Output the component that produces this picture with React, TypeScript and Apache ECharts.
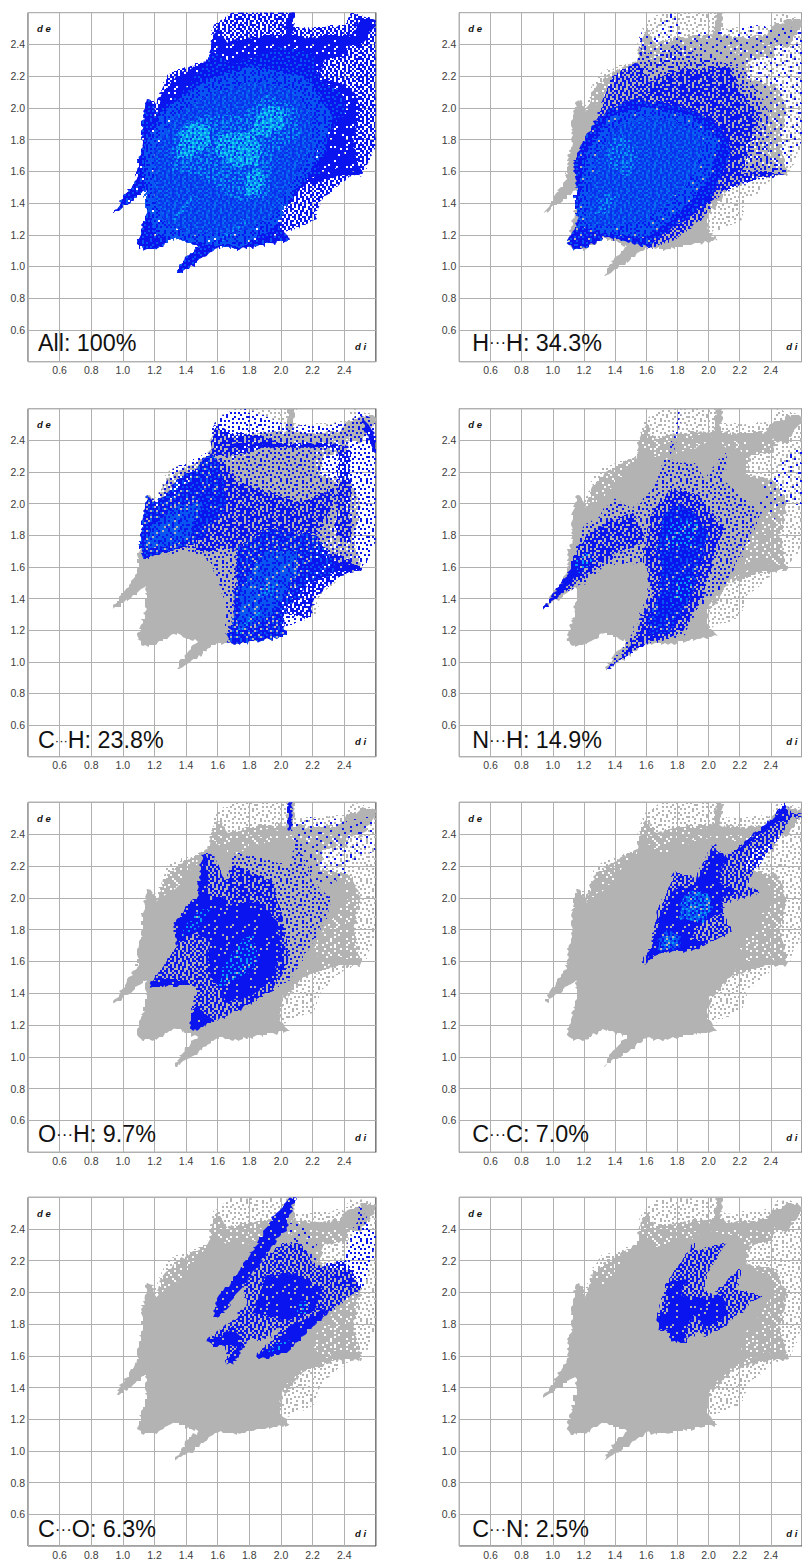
import React, { useEffect, useRef } from "react";
import * as echarts from "echarts";

type Pt = number[];

// ---------- axis ticks ----------
const tickMin = 0.4;
const tickMax = 2.6;
const tickStep = 0.2;

// ---------- panel labels ----------
const atomA = ["All: 100%", "H", "C", "N", "O", "C", "C", "C"];
const dots = ["", "···", "···", "···", "···", "···", "···", "···"];
const atomB = ["", "H: 34.3%", "H: 23.8%", "H: 14.9%", "H: 9.7%", "C: 7.0%", "O: 6.3%", "N: 2.5%"];

// ---------- whole-crystal fingerprint (di, de) ----------
const allEnvelope: Pt[] = [[0.94,1.335],[1.02,1.46],[1.087,1.56],[1.10,1.69],[1.125,1.755],[1.12,1.88],[1.137,1.965],[1.15,2.05],[1.175,2.05],[1.213,2.02],[1.266,2.176],[1.308,2.22],[1.424,2.26],[1.54,2.30],[1.555,2.41],[1.572,2.50],[1.624,2.555],[1.698,2.6],[2.098,2.6],[2.067,2.51],[2.12,2.495],[2.414,2.52],[2.435,2.59],[2.5,2.585],[2.6,2.55],[2.6,1.755],[2.51,1.577],[2.457,1.57],[2.39,1.535],[2.33,1.48],[2.246,1.41],[2.214,1.293],[2.18,1.27],[2.014,1.21],[2.056,1.163],[1.95,1.146],[1.74,1.108],[1.593,1.115],[1.53,1.066],[1.42,0.99],[1.33,0.94],[1.39,1.04],[1.477,1.125],[1.32,1.178],[1.213,1.108],[1.13,1.10],[1.09,1.142],[1.14,1.314],[1.15,1.48],[1.05,1.40]];
const allMedium: Pt[] = [[1.213,1.97],[1.25,2.1],[1.33,2.19],[1.424,2.24],[1.54,2.30],[1.56,2.42],[1.60,2.50],[1.66,2.41],[1.8,2.44],[2.0,2.46],[2.2,2.44],[2.44,2.46],[2.42,2.32],[2.27,2.3],[2.24,2.18],[2.44,2.14],[2.5,2.0],[2.46,1.78],[2.5,1.6],[2.3,1.55],[2.14,1.5],[2.03,1.36],[1.8,1.8]];
const allCore: Pt[] = [[0.94,1.335],[1.02,1.46],[1.09,1.56],[1.10,1.69],[1.125,1.755],[1.12,1.88],[1.137,1.965],[1.15,2.05],[1.175,2.05],[1.213,1.97],[1.30,2.03],[1.38,2.1],[1.46,2.2],[1.54,2.29],[1.56,2.36],[1.70,2.27],[1.85,2.33],[2.0,2.38],[2.2,2.34],[2.24,2.18],[2.38,2.1],[2.42,1.98],[2.28,1.82],[2.2,1.68],[2.25,1.58],[2.14,1.52],[2.01,1.385],[1.99,1.24],[2.056,1.163],[1.95,1.146],[1.74,1.108],[1.593,1.115],[1.53,1.066],[1.42,0.99],[1.33,0.94],[1.39,1.04],[1.477,1.125],[1.32,1.178],[1.213,1.108],[1.13,1.10],[1.09,1.142],[1.14,1.314],[1.15,1.48],[1.05,1.40]];
const allBandTop: Pt[] = [[2.02,2.40],[2.05,2.6],[2.09,2.6],[2.07,2.40]];
const allBandRim: Pt[] = [[1.85,2.38],[2.4,2.40],[2.58,2.5],[2.6,2.55],[2.42,2.52],[2.36,2.44],[1.9,2.43]];
const allBandSpur: Pt[] = [[2.3,1.57],[2.5,1.575],[2.51,1.6],[2.32,1.63]];
const allBandCorner: Pt[] = [[2.42,2.40],[2.5,2.38],[2.6,2.52],[2.6,2.55],[2.5,2.56]];

const allNoiseWide: Pt[] = [[1.14,1.4],[1.2,1.2],[1.45,1.14],[1.75,1.12],[1.98,1.26],[2.1,1.5],[2.28,1.72],[2.32,1.95],[2.15,2.2],[1.8,2.26],[1.5,2.16],[1.26,1.98],[1.14,1.75]];
const allNoiseZone: Pt[] = [[1.2,1.42],[1.28,1.26],[1.45,1.2],[1.72,1.2],[1.95,1.32],[2.08,1.55],[2.2,1.75],[2.2,1.95],[2.05,2.12],[1.8,2.16],[1.55,2.08],[1.32,1.94],[1.2,1.72]];
const allGlow: Pt[] = [[1.3,1.6],[1.5,1.56],[1.7,1.42],[1.92,1.42],[1.95,1.7],[2.12,1.82],[2.1,2.0],[1.9,2.08],[1.75,1.95],[1.5,1.95],[1.32,1.85]];
const allHotLeft: Pt[] = [[1.34,1.68],[1.44,1.68],[1.55,1.76],[1.55,1.88],[1.44,1.91],[1.36,1.84]];
const allHotMiddle: Pt[] = [[1.58,1.72],[1.70,1.62],[1.86,1.64],[1.88,1.76],[1.82,1.84],[1.70,1.84],[1.60,1.82]];
const allHotRight: Pt[] = [[1.80,1.82],[1.92,1.82],[2.02,1.88],[2.03,1.98],[1.92,2.01],[1.84,1.95]];
const allHotLower: Pt[] = [[1.77,1.45],[1.86,1.44],[1.9,1.55],[1.86,1.62],[1.78,1.58]];
const allStreakLeft: Pt[] = [[1.3,1.28],[1.34,1.28],[1.46,1.44],[1.42,1.44]];
const allStreakLow: Pt[] = [[1.58,1.14],[1.62,1.14],[1.82,1.3],[1.78,1.3]];

// ---------- H...H ----------
const hhSparse: Pt[] = [[1.72,1.2],[1.99,1.377],[2.1,1.5],[2.3,1.54],[2.49,1.577],[2.6,1.8],[2.6,2.5],[2.3,2.52],[2.0,2.48],[1.82,2.42],[1.79,2.6],[1.72,2.58],[1.62,2.47],[1.57,2.49],[1.55,2.28],[1.487,2.26],[1.6,1.8]];
const hhLoose: Pt[] = [[1.57,2.49],[1.62,2.3],[1.8,2.4],[2.0,2.3],[2.2,2.25],[2.38,2.0],[2.38,1.7],[2.49,1.58],[2.2,1.52],[2.0,1.4],[1.8,1.6],[1.55,2.28]];
const hhMedium: Pt[] = [[1.19,1.78],[1.277,1.92],[1.38,2.197],[1.487,2.26],[1.55,2.28],[1.62,2.16],[1.82,2.24],[2.14,2.25],[2.2,2.1],[2.325,1.966],[2.25,1.7],[2.2,1.55],[2.074,1.482],[1.96,1.30],[1.8,1.18],[1.61,1.108],[1.6,1.3],[1.2,1.3]];
const hhDense: Pt[] = [[1.09,1.146],[1.13,1.1],[1.214,1.115],[1.34,1.184],[1.508,1.146],[1.61,1.12],[1.70,1.2],[1.864,1.3],[1.99,1.4],[2.074,1.55],[2.14,1.7],[2.14,1.776],[2.05,1.9],[1.93,1.966],[1.717,2.03],[1.51,2.05],[1.38,2.0],[1.277,1.92],[1.19,1.776],[1.13,1.65],[1.15,1.545],[1.14,1.42],[1.16,1.28]];
const hhSpur: Pt[] = [[2.07,1.47],[2.3,1.55],[2.49,1.577],[2.3,1.6],[2.1,1.55]];
const hhNoiseWide: Pt[] = [[1.16,1.25],[1.35,1.2],[1.6,1.18],[1.82,1.34],[2.0,1.55],[2.08,1.78],[1.9,1.94],[1.6,2.0],[1.38,1.95],[1.22,1.72],[1.17,1.45]];
const hhNoise: Pt[] = [[1.22,1.26],[1.4,1.26],[1.58,1.28],[1.8,1.45],[1.93,1.62],[1.97,1.8],[1.82,1.9],[1.6,1.94],[1.42,1.88],[1.28,1.7],[1.22,1.45]];
const hhHotUpper: Pt[] = [[1.36,1.62],[1.50,1.56],[1.54,1.72],[1.44,1.84],[1.36,1.76]];
const hhHotLower: Pt[] = [[1.27,1.33],[1.36,1.33],[1.42,1.45],[1.34,1.46]];

// ---------- C...H ----------
const chSparse: Pt[] = [[1.10,1.745],[1.13,1.65],[1.234,1.676],[1.403,1.692],[1.53,1.65],[1.614,1.503],[1.656,1.335],[1.656,1.125],[1.74,1.108],[1.95,1.146],[2.056,1.163],[2.014,1.21],[2.18,1.27],[2.214,1.398],[2.39,1.545],[2.51,1.577],[2.6,1.755],[2.6,2.51],[2.488,2.585],[2.45,2.5],[2.12,2.49],[2.03,2.5],[1.74,2.6],[1.62,2.55],[1.572,2.5],[1.555,2.32],[1.32,2.22],[1.213,2.018],[1.15,2.05],[1.125,1.9]];
const chMiddle: Pt[] = [[1.45,1.69],[1.72,1.71],[1.91,1.84],[2.22,1.8],[2.33,2.0],[2.34,2.1],[2.12,2.0],[1.9,2.08],[1.72,2.14],[1.62,2.3],[1.5,2.1]];
const chTopLeft: Pt[] = [[1.56,2.3],[1.58,2.5],[1.7,2.44],[1.9,2.42],[2.0,2.38],[1.7,2.3]];
const chFringe: Pt[] = [[2.03,1.3],[2.18,1.27],[2.214,1.4],[2.39,1.545],[2.51,1.577],[2.4,1.66],[2.33,1.7],[2.1,1.5]];
const chDenseLeft: Pt[] = [[1.10,1.745],[1.13,1.65],[1.234,1.676],[1.40,1.72],[1.50,1.78],[1.60,1.9],[1.66,2.0],[1.62,2.2],[1.56,2.32],[1.47,2.22],[1.36,2.17],[1.27,2.05],[1.213,2.0],[1.15,2.05],[1.125,1.9]];
const chDenseRight: Pt[] = [[1.74,1.108],[1.656,1.125],[1.70,1.30],[1.72,1.713],[1.91,1.84],[2.225,1.797],[2.33,1.63],[2.33,1.556],[2.2,1.50],[2.035,1.335],[2.014,1.21],[2.056,1.163],[1.95,1.146]];
const chBandRim: Pt[] = [[1.7,2.355],[2.36,2.355],[2.36,2.375],[1.7,2.38]];
const chBandSide: Pt[] = [[2.35,1.8],[2.44,1.75],[2.43,2.36],[2.36,2.36]];
const chBandCorner: Pt[] = [[2.5,2.56],[2.53,2.45],[2.6,2.28],[2.6,2.42]];
const chBandSpur: Pt[] = [[2.3,1.57],[2.5,1.575],[2.51,1.6],[2.32,1.63]];
const chNoiseLeft: Pt[] = [[1.14,1.72],[1.28,1.72],[1.42,1.78],[1.5,2.0],[1.35,1.98],[1.18,1.85]];
const chNoiseRight: Pt[] = [[1.72,1.18],[1.95,1.3],[2.1,1.55],[2.1,1.7],[1.9,1.7],[1.75,1.45]];
const chHot: Pt[] = [[1.86,1.4],[1.95,1.42],[1.98,1.5],[1.88,1.47]];
const chHotStreak: Pt[] = [[1.7,1.16],[1.74,1.16],[1.88,1.32],[1.84,1.32]];

// ---------- N...H ----------
const nhMedium: Pt[] = [[0.94,1.33],[1.09,1.545],[1.13,1.65],[1.19,1.84],[1.277,1.90],[1.40,2.03],[1.51,1.966],[1.655,2.11],[1.717,2.28],[1.78,2.26],[1.845,2.26],[1.93,2.24],[1.97,2.14],[2.115,2.32],[2.10,2.14],[2.2,2.05],[2.345,1.946],[2.26,1.755],[2.10,1.48],[1.93,1.335],[1.845,1.167],[1.59,1.108],[1.34,0.946],[1.465,1.115],[1.55,1.25],[1.61,1.44],[1.61,1.62],[1.34,1.61],[1.214,1.50],[1.045,1.42]];
const nhCoreWide: Pt[] = [[1.58,1.66],[1.64,1.96],[1.78,2.1],[1.95,2.04],[2.1,1.84],[2.02,1.62],[1.96,1.4],[1.84,1.2],[1.7,1.13],[1.58,1.12],[1.56,1.25],[1.64,1.42]];
const nhCore: Pt[] = [[1.66,1.68],[1.71,1.93],[1.80,2.0],[1.93,1.92],[2.0,1.8],[1.95,1.62],[1.9,1.44],[1.82,1.28],[1.74,1.18],[1.64,1.16],[1.6,1.25],[1.68,1.42],[1.7,1.6]];
const nhWedgeLeft: Pt[] = [[0.94,1.33],[1.09,1.545],[1.16,1.72],[1.30,1.86],[1.52,1.94],[1.6,1.75],[1.4,1.68],[1.24,1.56],[1.045,1.42]];
const nhTipLeft: Pt[] = [[0.94,1.33],[1.09,1.545],[1.14,1.66],[1.24,1.62],[1.12,1.5],[1.045,1.42]];
const nhWedgeLow: Pt[] = [[1.34,0.946],[1.50,1.1],[1.58,1.24],[1.66,1.3],[1.72,1.16],[1.59,1.108]];
const nhSpine: Pt[] = [[1.72,2.24],[1.78,2.44],[1.80,2.58],[1.82,2.58],[1.80,2.44],[1.75,2.24]];
const nhOuter: Pt[] = [[2.3,1.95],[2.36,2.12],[2.5,2.32],[2.6,2.36],[2.6,1.98],[2.5,2.0],[2.42,1.9]];
const nhHotLeft: Pt[] = [[1.17,1.56],[1.26,1.62],[1.22,1.70],[1.14,1.64]];
const nhHotLow: Pt[] = [[1.76,1.36],[1.88,1.42],[1.9,1.55],[1.8,1.52]];
const nhHotCore: Pt[] = [[1.72,1.72],[1.9,1.72],[1.94,1.88],[1.76,1.9]];

// ---------- O...H ----------
const ohOuter: Pt[] = [[1.74,1.293],[1.86,1.36],[2.056,1.48],[2.225,1.755],[2.33,1.986],[2.2,2.1],[2.1,2.35],[2.05,2.2],[1.85,2.25],[1.7,2.28],[1.65,2.1],[1.8,1.6]];
const ohMain: Pt[] = [[1.17,1.46],[1.17,1.436],[1.466,1.45],[1.424,1.178],[1.445,1.163],[1.74,1.293],[1.95,1.42],[2.05,1.6],[2.0,1.9],[1.95,2.1],[1.7,2.2],[1.65,2.1],[1.56,2.27],[1.51,2.27],[1.466,1.986],[1.32,1.84],[1.34,1.69]];
const ohDense: Pt[] = [[1.34,1.70],[1.32,1.84],[1.40,1.95],[1.47,2.0],[1.50,2.27],[1.52,2.27],[1.55,2.0],[1.65,2.0],[1.68,1.95],[1.85,1.98],[1.98,1.85],[2.0,1.65],[1.95,1.48],[1.8,1.38],[1.65,1.34],[1.6,1.45],[1.53,1.55],[1.55,1.72],[1.46,1.78]];
const ohWedgeA: Pt[] = [[1.17,1.46],[1.17,1.436],[1.42,1.45],[1.4,1.48],[1.22,1.49]];
const ohWedgeB: Pt[] = [[1.424,1.178],[1.445,1.163],[1.58,1.22],[1.48,1.32],[1.44,1.3]];
const ohSpine: Pt[] = [[2.05,2.42],[2.05,2.6],[2.075,2.6],[2.075,2.42]];
const ohSparse: Pt[] = [[2.06,2.44],[2.12,2.5],[2.45,2.48],[2.58,2.52],[2.6,2.3],[2.44,2.2],[2.35,2.1],[2.25,2.05],[2.1,2.3]];
const ohHot: Pt[] = [[1.60,1.42],[1.75,1.5],[1.85,1.6],[1.82,1.78],[1.72,1.7],[1.62,1.55]];
const ohHotArm: Pt[] = [[1.38,1.76],[1.46,1.8],[1.56,1.93],[1.50,1.92],[1.40,1.82]];

// ---------- C...C ----------
const ccOutline: Pt[] = [[1.56,1.59],[1.59,1.575],[1.676,1.645],[1.93,1.676],[2.15,1.78],[2.107,1.875],[2.09,1.96],[2.325,2.03],[2.24,2.075],[2.41,2.33],[2.53,2.505],[2.6,2.5],[2.6,2.53],[2.53,2.53],[2.48,2.6],[2.43,2.515],[2.26,2.37],[2.09,2.25],[2.04,2.34],[2.02,2.33],[1.92,2.12],[1.78,2.16],[1.75,2.075],[1.665,1.906],[1.645,1.78],[1.634,1.695]];
const ccDense: Pt[] = [[1.59,1.59],[1.676,1.645],[1.93,1.676],[2.0,1.72],[1.88,1.74],[1.96,1.84],[2.08,1.90],[2.09,2.0],[2.2,2.03],[2.05,2.1],[2.12,2.25],[2.02,2.3],[1.92,2.08],[1.78,2.05],[1.72,1.96],[1.66,1.8],[1.64,1.7]];
const ccRidge: Pt[] = [[2.10,2.22],[2.26,2.34],[2.42,2.46],[2.53,2.505],[2.48,2.58],[2.40,2.48],[2.26,2.37]];
const ccNoise: Pt[] = [[1.68,1.66],[1.82,1.68],[1.82,1.76],[1.72,1.8],[1.68,1.74]];
const ccHot: Pt[] = [[1.82,1.86],[1.96,1.84],[2.02,1.92],[2.0,2.02],[1.88,2.04],[1.82,1.96]];
const ccHotLow: Pt[] = [[1.70,1.68],[1.80,1.70],[1.78,1.76],[1.71,1.74]];

// ---------- C...O ----------
const coArmDense: Pt[] = [[1.572,1.847],[1.594,1.96],[1.74,2.14],[1.888,2.37],[1.97,2.50],[2.056,2.6],[2.094,2.6],[2.035,2.41],[1.93,2.265],[1.76,2.035],[1.656,1.89],[1.60,1.84]];
const coBody: Pt[] = [[1.53,1.69],[1.57,1.66],[1.645,1.66],[1.655,1.543],[1.70,1.543],[1.78,1.69],[1.91,1.71],[2.01,1.785],[1.845,1.595],[1.86,1.575],[2.035,1.617],[2.2,1.785],[2.51,2.025],[2.4,2.2],[2.22,2.16],[2.12,2.3],[2.0,2.3],[1.93,2.25],[1.76,2.035],[1.78,1.91],[1.676,1.805]];
const coWedgeBase: Pt[] = [[1.53,1.69],[1.57,1.66],[1.72,1.66],[1.655,1.543],[1.70,1.543],[1.76,1.66],[1.7,1.78],[1.62,1.72]];
const coWedgeLow: Pt[] = [[1.845,1.595],[1.86,1.575],[2.035,1.617],[2.2,1.785],[2.35,1.92],[2.18,1.85],[2.05,1.78],[1.95,1.66]];
const coCentre: Pt[] = [[1.82,1.86],[2.05,1.82],[2.22,1.88],[2.26,2.02],[2.1,2.12],[1.9,2.1]];
const coSparse: Pt[] = [[2.3,2.02],[2.51,2.025],[2.58,2.21],[2.6,2.36],[2.5,2.55],[2.46,2.4],[2.4,2.22]];
const coSparseTop: Pt[] = [[2.03,2.43],[2.12,2.43],[2.22,2.34],[2.22,2.2],[2.08,2.25]];
const coHot: Pt[] = [[2.10,1.86],[2.16,1.86],[2.17,1.94],[2.12,1.94]];
const coHotLow: Pt[] = [[1.90,1.61],[2.0,1.64],[2.06,1.7],[1.98,1.68]];

// ---------- C...N ----------
const cnOutline: Pt[] = [[1.665,1.826],[1.686,1.9],[1.717,2.015],[1.78,2.14],[1.885,2.277],[1.90,2.31],[1.925,2.256],[2.115,2.31],[2.01,2.16],[1.97,2.015],[2.03,1.98],[2.21,2.16],[2.18,2.015],[2.357,1.97],[2.26,1.93],[2.115,1.785],[1.97,1.72],[1.93,1.75],[1.845,1.68],[1.76,1.69],[1.74,1.74],[1.68,1.76]];
const cnDense: Pt[] = [[1.665,1.826],[1.69,1.88],[1.74,1.87],[1.72,1.96],[1.73,2.06],[1.86,2.08],[1.82,1.98],[1.95,1.96],[2.1,1.98],[2.12,1.86],[1.98,1.76],[1.9,1.86],[1.84,1.68],[1.76,1.69],[1.74,1.76],[1.68,1.76]];

// ---------- textures (hand-drawn 20x20 speckle masks, purely a fill style) ----------
const maskFaint = [
  "#.......#...........",".....#.......#......","..........#.......#.","..#.............#...",".......#..#.........",
  "............#.....#.","#....#..............","..........#....#....","...#...........#....",".......#.........#..",
  ".............#......","#....#.....#........","........#.........#.","..#............#....","...........#........",
  ".....#.........#....","#...........#......#",".........#..........","...#..........#.....",".......#..........#.",
];
const maskSparse = [
  "#..#....#..#...#....","...#.#.....#.#....#.",".#.....##.......#...","....#......#.#.#...#","#.#...#.#........#..",
  "......#....#..#.....","..#.#....#.....#.#.#","#.......#..#.#......","...##.#......#...#..",".#.....#..#.....#..#",
  "....#.....#.#.#.....","#.#....#........#.#.","...#.#...##.#.......","........#.....#.#..#",".#.#..#....#.......#",
  "....#...#.....#.#...","#.....#...#.#.....#.","..#.#........#.#....",".......#.#.#.....#.#","#..#.#.........#....",
];
const maskMedium = [
  "##.#.##.#..##.#.##.#",".#.##..##.#.#.##..#.","#.##.#.#.##.#..#.##.","##..##.#.#.##.#.#.##",".#.#.##..#.#..##.#.#",
  "#.##.#.##.##.#.#.##.","##.#..#.#.#.##.##..#",".##.##.#.##..#.#.##.","#.#.#.##.#.##.##.#.#","##.##..#.##.#.#..###",
  ".#.#.##.#.#.##.##.#.","#.##.#..##.#.#.#.##.","##.#.###.#.##.#.##.#",".##.#.#.##..#.##.#.#","#.#.##.#.#.##.#.#.##",
  "##.#.#.##.#.#.##.#..",".#.##.#.#.##.##.#.##","#.##.#.##.#.#..##.#.","##.#.##.#.##.#.#.#.#",".#.##.#.##.#.##.#.##",
];
const maskThick = [
  "###.###.######.#####","#.######.###.#####.#","####.####.######.###","##.#####.####.#.####","#####.#.#########.##",
  "#.########.##.######","####.##.#######.##.#","##.######.#.########","#######.#####.##.###","#.###.#######.######",
  "#####.####.#####.#.#","###.#####.####.#####","#.#####.#####.####.#","#####.#.#########.##","##.#######.##.######",
  "#######.#######.##.#","#.##.#######.#######","#####.###.#####.####","###.######.####.##.#","######.######.######",
];
const maskDense = [
  "####.###############","###########.########","#.##################","##########.#######.#","#####.##############",
  "################.###","##.##########.######","#######.############","#################.##","###.#######.########",
  "###################.","######.#############","##############.#####","#.##########.#######","########.###########",
  "###############.####","####.###############","##########.######.##","#.##################","#######.######.#####",
];
const maskNoise = [
  "abacbaabcabaacbabaca","bacabbacabcabacabbac","abbacabcbaabcabacaba","cabaabacabbacabbacab","abcabacbaacabaacbaab",
  "baabcabaabcabcabaabc","acabbacabacbaabcabca","bbacaabcabaabacabaab","abacbabaacabcabbacab","caabbacabbacaababcaa",
  "abcabaacbaabcabcabab","babacabcabacabaabacb","aacbabaabcabbacabcaa","bcabaacabaabcabaabcb","abaacbabcabaacbacaba",
  "cabcabaabacbabcabaac","abaabcabcabaacabaabb","baccabaabcabcabacaba","aabacbabacabaabcabca","bcabaacabaacbabaabac",
];
const paletteBase: Record<string, string> = { a: "#0a30ee", b: "#0a50f0", c: "#0a70f2" };

const BLUE = "#0a14ee";
const GREY = "#b3b3b3";
const LIFT = "#0a56f0";
const GLOW = "#0a9cf2";
const HOT = "#14d8f0";
const FONT = "'Liberation Sans', Arial, sans-serif";

function tile(rows: string[], colors: Record<string, string>) {
  const cell = 2;
  const c = document.createElement("canvas");
  c.width = rows[0].length * cell;
  c.height = rows.length * cell;
  const g = c.getContext("2d")!;
  rows.forEach((r, y) => {
    for (let x = 0; x < r.length; x++) {
      const col = colors[r[x]];
      if (col) {
        g.fillStyle = col;
        g.fillRect(x * cell, y * cell, cell, cell);
      }
    }
  });
  return { image: c.toDataURL(), repeat: "repeat", imageWidth: c.width, imageHeight: c.height };
}

// pixelated, bin-like drawing of a polygon's edge: snaps to the 2 px texture lattice
function pixelEdge(points: number[][]) {
  const out: number[][] = [];
  const cell = 2;
  points.forEach((a, i) => {
    const b = points[(i + 1) % points.length];
    const n = Math.max(1, Math.ceil(Math.max(Math.abs(b[0] - a[0]), Math.abs(b[1] - a[1])) / cell));
    out.push(a);
    for (let k = 1; k < n; k++) {
      const ix = Math.round((a[0] + ((b[0] - a[0]) * k) / n) / cell);
      const iy = Math.round((a[1] + ((b[1] - a[1]) * k) / n) / cell);
      const ox = maskMedium[((iy % 20) + 20) % 20][((ix % 20) + 20) % 20] === "#" ? cell : 0;
      const oy = maskSparse[((ix % 20) + 20) % 20][((iy % 20) + 20) % 20] === "#" ? cell : 0;
      out.push([ix * cell + ox - 1, iy * cell + oy - 1]);
    }
  });
  return out;
}

export default function App() {
  const ref = useRef<HTMLDivElement>(null);
  useEffect(() => {
    document.body.style.margin = "0";
    const chart = echarts.init(ref.current!, null, { renderer: "svg" });

    const fills: Record<string, any> = {
      gf: tile(maskSparse, { "#": GREY }),
      gm: tile(maskThick, { "#": GREY }),
      gd: GREY,
      bv: tile(maskFaint, { "#": BLUE }),
      bs: tile(maskSparse, { "#": BLUE }),
      bm: tile(maskMedium, { "#": BLUE }),
      bk: tile(maskThick, { "#": BLUE }),
      bd: tile(maskDense, { "#": BLUE }),
      n0: tile(maskSparse, { "#": LIFT }),
      n1: tile(maskMedium, { "#": LIFT }),
      bn: tile(maskNoise, paletteBase),
      t1: tile(maskSparse, { "#": GLOW }),
      t2: tile(maskMedium, { "#": GLOW }),
      h1: tile(maskSparse, { "#": HOT }),
      h2: tile(maskMedium, { "#": HOT }),
    };

    const greyLayers: [string, Pt[][]][] = [
      ["gf", [allEnvelope]],
      ["gm", [allMedium]],
      ["gd", [allCore, allBandTop, allBandRim, allBandSpur, allBandCorner]],
    ];

    const panels: [string, Pt[][]][][] = [
      [
        ["bm", [allEnvelope]],
        ["bk", [allMedium]],
        ["bd", [allCore, allBandTop, allBandSpur, allBandCorner]],
        ["n0", [allCore]],
        ["n1", [allNoiseWide]],
        ["bn", [allNoiseZone]],
        ["t1", [allGlow, allStreakLeft, allStreakLow]],
        ["t2", [allHotLeft, allHotMiddle, allHotRight, allHotLower]],
        ["h1", [allHotLeft, allHotMiddle, allHotRight, allHotLower]],
      ],
      [
        ...greyLayers,
        ["bv", [hhSparse]],
        ["bs", [hhLoose]],
        ["bm", [hhMedium, hhSpur]],
        ["bd", [hhDense]],
        ["n0", [hhDense]],
        ["n1", [hhNoiseWide]],
        ["bn", [hhNoise]],
        ["t1", [hhHotUpper, hhHotLower]],
      ],
      [
        ...greyLayers,
        ["bs", [chSparse]],
        ["bm", [chMiddle, chFringe, chTopLeft, chBandSide]],
        ["bk", [chDenseLeft, chDenseRight, chBandRim]],
        ["bd", [chBandCorner, chBandSpur]],
        ["n0", [chDenseLeft, chDenseRight]],
        ["n1", [chNoiseLeft, chNoiseRight]],
        ["t1", [chHot, chHotStreak]],
      ],
      [
        ...greyLayers,
        ["bv", [nhOuter]],
        ["bs", [nhMedium, nhSpine]],
        ["bm", [nhWedgeLeft, nhWedgeLow, nhCoreWide]],
        ["bk", [nhCore]],
        ["bd", [nhTipLeft]],
        ["n0", [nhCore]],
        ["t1", [nhHotCore, nhHotLeft, nhHotLow]],
      ],
      [
        ...greyLayers,
        ["bv", [ohSparse]],
        ["bs", [ohOuter]],
        ["bm", [ohMain]],
        ["bk", [ohDense]],
        ["bd", [ohWedgeA, ohWedgeB, ohSpine]],
        ["n0", [ohHot, ohHotArm]],
        ["t1", [ohHot, ohHotArm]],
      ],
      [
        ...greyLayers,
        ["bm", [ccOutline]],
        ["bk", [ccDense, ccRidge]],
        ["n1", [ccHot, ccNoise]],
        ["t1", [ccHot, ccHotLow]],
      ],
      [
        ...greyLayers,
        ["bv", [coSparseTop]],
        ["bs", [coSparse]],
        ["bm", [coBody]],
        ["bd", [coArmDense, coWedgeBase, coWedgeLow]],
        ["bk", [coCentre]],
        ["t1", [coHot, coHotLow]],
      ],
      [
        ...greyLayers,
        ["bm", [cnOutline]],
        ["bk", [cnDense]],
      ],
    ];

    const lefts = [28, 459.3];
    const bottoms = [361.7, 756.7, 1152.3, 1548.3];
    const heights = [349.1, 348, 350, 351];
    const textY = [342.7, 740, 1134, 1529];
    const dotSizes = [0, 17, 13, 17, 17, 17, 17, 17];
    const plotW = 347.8;

    const grid: any[] = [];
    const xAxis: any[] = [];
    const yAxis: any[] = [];
    const series: any[] = [];
    const elements: any[] = [];

    panels.forEach((layers, i) => {
      const col = i % 2;
      const row = (i - col) / 2;
      const left = lefts[col];
      const bottom = bottoms[row];
      const height = heights[row];
      grid.push({
        show: true, left, top: bottom - height, width: plotW, height,
        borderColor: "#444", borderWidth: 1, backgroundColor: "#fff",
      });
      const axis = (extra: any) => ({
        gridIndex: i, type: "value", min: tickMin, max: tickMax, interval: tickStep,
        axisLine: { show: false }, axisTick: { show: false },
        splitLine: { show: true, lineStyle: { color: "#b0b0b0", width: 1 } },
        axisLabel: {
          showMinLabel: false, showMaxLabel: false, color: "#3c3c3c", fontSize: 10.5, fontFamily: FONT,
          formatter: (v: number) => v.toFixed(1), ...extra,
        },
      });
      xAxis.push(axis({ margin: 3 }));
      yAxis.push(axis({ margin: 3 }));

      layers.forEach(([key, polys]) => {
        series.push({
          type: "custom", coordinateSystem: "cartesian2d", xAxisIndex: i, yAxisIndex: i, silent: true,
          clip: true, encode: { x: 0, y: 1 },
          data: polys.map((p) => p[0]),
          renderItem: (params: any, api: any) => ({
            type: "polygon",
            shape: { points: pixelEdge(polys[params.dataIndex].map((p) => api.coord(p))) },
            style: { fill: fills[key], stroke: null },
          }),
        });
      });

      const small = { font: `italic bold 9.5px ${FONT}`, fill: "#111" };
      elements.push({ type: "text", x: left + 9, y: bottom - height + 16, style: { text: "d e", verticalAlign: "middle", ...small }, z: 50 });
      elements.push({ type: "text", x: left + 327, y: bottom - 15, style: { text: "d i", verticalAlign: "middle", ...small }, z: 50 });
      const big = { fontSize: 23.3, fontFamily: FONT, fill: "#111" };
      const text = dots[i] ? `{a|${atomA[i]}}{d|${dots[i]}}{a|${atomB[i]}}` : `{a|${atomA[i]}}`;
      elements.push({
        type: "text", x: left + 10 + (col ? 3 : 0), y: textY[row], z: 50,
        style: {
          text, verticalAlign: "middle",
          rich: { a: big, d: { fontSize: dotSizes[i] || 17, fontFamily: FONT, fill: "#111" } },
        },
      });
    });

    chart.setOption({
      animation: false,
      backgroundColor: "#fff",
      grid, xAxis, yAxis, series,
      graphic: { elements },
    });
    return () => chart.dispose();
  }, []);
  return <div ref={ref} style={{ width: 802, height: 1560, overflow: "hidden" }} />;
}
